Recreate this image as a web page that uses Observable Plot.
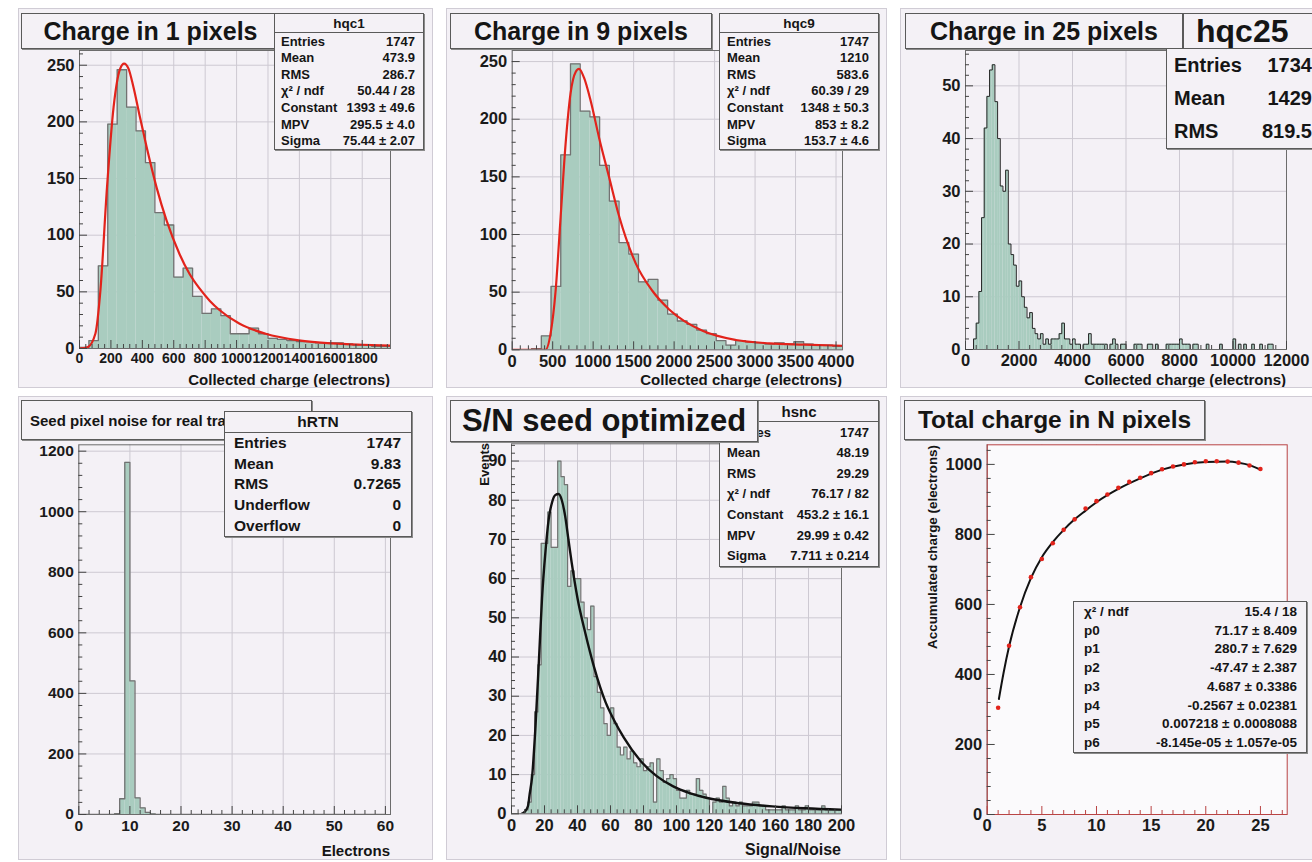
<!DOCTYPE html>
<html>
<head>
<meta charset="utf-8">
<script src="https://cdn.jsdelivr.net/npm/d3@7"></script>
<script src="https://cdn.jsdelivr.net/npm/@observablehq/plot@0.6"></script>
<style>
  html, body { margin:0; padding:0; background:#ffffff; }
  body { width:1312px; height:862px; overflow:hidden; position:relative;
         font-family:"Liberation Sans", Arial, Helvetica, sans-serif; color:#111; }
  .pad { position:absolute; overflow:hidden; background:#f4f1f6; box-sizing:border-box;
         border:1px solid #d0ccd5; }
  .pad > svg { position:absolute; left:0; top:0; }
  .box { position:absolute; box-sizing:border-box; background:#f4f1f6; border:1px solid #5a5a5a;
         box-shadow:1px 1px 0 #8a8a8a; font-weight:bold; white-space:nowrap; color:#151515; }
  .title { display:flex; align-items:center; justify-content:center; }
  .hdr { position:absolute; left:0; right:0; top:0; box-sizing:border-box;
         border-bottom:1px solid #5a5a5a; display:flex; align-items:center; justify-content:center; }
  .row { position:absolute; display:flex; justify-content:space-between; align-items:center; }
  .axt { position:absolute; font-weight:bold; white-space:nowrap; line-height:1; color:#151515; }
</style>
</head>
<body>
<script>
// ---------------- DATA ----------------
// Panel 1: hqc1 (charge in 1 pixel), bins of 60 electrons from 0
const hqc1BinWidth = 60;
const hqc1Counts = [1, 7, 73, 198, 246, 213, 192, 164, 120, 109, 63, 71, 46, 31, 35, 29, 13, 13, 18, 13, 9, 8, 7, 6, 6, 5, 5, 5, 4, 3, 3, 2, 2];
const hqc1FitX = [0, 50, 101, 133, 175, 217, 259, 284, 312, 343, 385, 427, 491, 554, 638, 700, 764, 830, 891, 1017, 1185, 1396, 1606, 1800, 1980];
const hqc1FitY = [0, 1, 13, 51, 142, 213, 247, 251.5, 247, 231, 204, 178, 142, 113, 83, 66, 53, 42, 34, 22, 13, 7.2, 4.5, 3.3, 2.6];
const hqc1XTicks = [0, 200, 400, 600, 800, 1000, 1200, 1400, 1600, 1800];
const hqc1YTicks = [0, 50, 100, 150, 200, 250];
const hqc1Stats = [["Entries", "1747"], ["Mean", "473.9"], ["RMS", "286.7"], ["χ² / ndf", "50.44 / 28"], ["Constant", "1393 ± 49.6"], ["MPV", "295.5 ± 4.0"], ["Sigma", "75.44 ± 2.07"]];

// Panel 2: hqc9 (charge in 9 pixels), bins of 120 electrons from 0
const hqc9BinWidth = 120;
const hqc9Counts = [0, 0, 1, 12, 55, 169, 248, 207, 202, 160, 129, 93, 83, 59, 61, 43, 31, 25, 22, 17, 14, 8, 4, 8, 7, 6, 5, 6, 5, 7, 5, 4, 4, 3];
const hqc9FitX = [0, 412, 474, 536, 598, 660, 722, 784, 825, 887, 969, 1073, 1196, 1320, 1526, 1733, 1939, 2351, 2764, 3177, 3600, 4080];
const hqc9FitY = [0, 0, 14, 51, 115, 179, 223, 241, 243.6, 236, 216, 184, 150, 116, 75, 51, 35, 16.5, 8.5, 5.6, 4.5, 3.5];
const hqc9XTicks = [0, 500, 1000, 1500, 2000, 2500, 3000, 3500, 4000];
const hqc9YTicks = [0, 50, 100, 150, 200, 250];
const hqc9Stats = [["Entries", "1747"], ["Mean", "1210"], ["RMS", "583.6"], ["χ² / ndf", "60.39 / 29"], ["Constant", "1348 ± 50.3"], ["MPV", "853 ± 8.2"], ["Sigma", "153.7 ± 4.6"]];

// Panel 3: hqc25 (charge in 25 pixels), bins of 100 electrons from 0
const hqc25BinWidth = 100;
const hqc25Counts = [0, 0, 0, 2, 5, 11, 25, 42, 48, 53, 54, 47, 40, 31, 30, 34, 20, 18, 16, 12,
  13, 10, 8, 6, 7, 4, 3, 2, 3, 1, 2, 1, 2, 2, 2, 3, 5, 2, 2, 1,
  2, 1, 1, 0, 1, 1, 3, 1, 1, 1, 1, 1, 1, 0, 1, 2, 1, 0, 1, 1,
  0, 0, 0, 1, 1, 1, 0, 0, 1, 1, 0, 1, 0, 0, 0, 1, 1, 1, 1, 1,
  2, 1, 1, 1, 0, 1, 1, 0, 0, 0, 1, 0, 0, 0, 0, 1, 0, 0, 0, 0,
  2, 0, 1, 0, 1, 0, 0, 1, 0, 0, 1, 0, 0, 1, 1, 0, 0, 0, 0, 0];
const hqc25XTicks = [0, 2000, 4000, 6000, 8000, 10000, 12000];
const hqc25YTicks = [0, 10, 20, 30, 40, 50];
const hqc25Stats = [["Entries", "1734"], ["Mean", "1429"], ["RMS", "819.5"]];

// Panel 4: hRTN (seed pixel noise), bins of 1 electron from 0
const hRTNBinWidth = 1;
const hRTNCounts = [0, 0, 0, 0, 0, 0, 0, 3, 52, 1163, 441, 55, 22, 7, 2, 0, 0, 0, 0, 0,
  0, 0, 0, 0, 0, 0, 0, 0, 0, 0, 0, 0, 0, 0, 0, 0, 0, 0, 0, 0,
  0, 0, 0, 0, 0, 0, 0, 0, 0, 0, 0, 0, 0, 0, 0, 0, 0, 0, 0, 0];
const hRTNXTicks = [0, 10, 20, 30, 40, 50, 60];
const hRTNYTicks = [0, 200, 400, 600, 800, 1000, 1200];
const hRTNStats = [["Entries", "1747"], ["Mean", "9.83"], ["RMS", "0.7265"], ["Underflow", "0"], ["Overflow", "0"]];

// Panel 5: hsnc (S/N seed optimized), bins of 2 from 0
const hsncBinWidth = 2;
const hsncCounts = [0, 0, 0, 0, 1, 3, 10, 26, 38, 69, 69, 77, 68, 68, 90, 86, 84, 58, 62, 60,
  60, 54, 50, 47, 53, 35, 31, 27, 23, 20, 27, 23, 17, 15, 17, 14, 16, 13, 12, 14,
  11, 12, 13, 3, 14, 11, 8, 9, 10, 9, 6, 4, 4, 6, 5, 5, 9, 6, 5, 4,
  0, 3, 4, 3, 7, 4, 2, 3, 2, 3, 2, 2, 2, 3, 3, 2, 2, 1, 1, 1,
  1, 1, 2, 1, 1, 1, 2, 1, 1, 2, 1, 1, 1, 1, 2, 1, 1, 1, 1, 1];
const hsncFitX = [6, 8, 10, 11, 12.5, 14.5, 16.6, 18.5, 20.6, 22.5, 24.6, 26.5, 28.5, 30.5, 32.5, 34.5, 36.5, 40, 44.8, 50, 57, 62, 68, 78, 88, 98, 108, 118, 138, 158, 178, 200];
const hsncFitY = [0, 0.5, 2, 5, 9.5, 22, 39, 55, 67, 75, 79.5, 81.3, 81.6, 80, 76, 70, 64, 55, 46, 37.5, 28.5, 24, 19.5, 13.6, 9.6, 7, 5.3, 4.1, 2.7, 1.9, 1.4, 1.05];
const hsncXTicks = [0, 20, 40, 60, 80, 100, 120, 140, 160, 180, 200];
const hsncYTicks = [0, 10, 20, 30, 40, 50, 60, 70, 80, 90];
const hsncStats = [["Entries", "1747"], ["Mean", "48.19"], ["RMS", "29.29"], ["χ² / ndf", "76.17 / 82"], ["Constant", "453.2 ± 16.1"], ["MPV", "29.99 ± 0.42"], ["Sigma", "7.711 ± 0.214"]];

// Panel 6: total charge in N pixels
const nPixels = [1, 2, 3, 4, 5, 6, 7, 8, 9, 10, 11, 12, 13, 14, 15, 16, 17, 18, 19, 20, 21, 22, 23, 24, 25];
const accCharge = [305, 482, 592, 678, 730, 775, 813, 843, 874, 895, 914, 933, 950, 962, 975, 986, 994, 1000, 1006, 1009, 1009, 1008, 1005, 997, 987];
const pol6FitX = [1.07, 1.5, 2, 3, 4, 5, 6, 7, 8, 9, 10, 12, 14, 16, 18, 20, 22, 23, 24, 25];
const pol6FitY = [330, 405, 480, 592, 675, 735, 778, 813, 843, 868, 892, 930, 960, 985, 1000, 1007, 1008, 1005, 998, 985];
const accXTicks = [0, 5, 10, 15, 20, 25];
const accYTicks = [0, 200, 400, 600, 800, 1000];
const pol6Stats = [["χ² / ndf", "15.4 / 18"], ["p0", "71.17 ± 8.409"], ["p1", "280.7 ± 7.629"], ["p2", "-47.47 ± 2.387"], ["p3", "4.687 ± 0.3386"], ["p4", "-0.2567 ± 0.02381"], ["p5", "0.007218 ± 0.0008088"], ["p6", "-8.145e-05 ± 1.057e-05"]];

// ---------------- STYLE ----------------
const FONT = '"Liberation Sans", Arial, Helvetica, sans-serif';
const COL = {fill: "#a9ccbf", outline: "#727272", grid: "#cdc9d2", axis: "#6c6c6c", tick: "#444444",
             red: "#e2231b", black: "#121212", frame6: "#b94444"};
const fmt = d3.format("d");

// ---------------- HELPERS ----------------
function div(cls) { const d = document.createElement("div"); if (cls) d.className = cls; return d; }
function makePad(left, top, w, h) {
  const d = div("pad");
  Object.assign(d.style, {left: left + "px", top: top + "px", width: w + "px", height: h + "px"});
  document.body.appendChild(d);
  return {el: d, left, top, w, h};
}
function put(p, el, x, y) {
  el.style.left = (x - p.left - 1) + "px";
  el.style.top = (y - p.top - 1) + "px";
  p.el.appendChild(el);
}
function minorTicks(major, n) {
  const out = [];
  for (let i = 0; i < major.length - 1; i++) {
    const a = major[i], b = major[i + 1];
    for (let k = 1; k < n; k++) out.push(a + (b - a) * k / n);
  }
  const step = (major[1] - major[0]) / n;
  let v = major[major.length - 1] + step;
  for (let k = 1; k < n; k++, v += step) out.push(v);
  return out;
}
function axisMarks(o) {
  const xc = o.xTickColor || COL.tick, yc = o.yTickColor || COL.tick;
  return [
    Plot.axisX({ticks: o.xMajor, tickSize: 0, tickPadding: 5, tickFormat: fmt, label: null, fontSize: o.xFontSize || o.fontSize}),
    Plot.axisX({ticks: o.xMajor, tickSize: -8, tickFormat: () => "", label: null, stroke: xc}),
    Plot.axisX({ticks: o.xMinor.filter(v => v <= o.xDomain[1]), tickSize: -4, tickFormat: () => "", label: null, stroke: xc}),
    Plot.axisY({ticks: o.yMajor, tickSize: 0, tickPadding: 5, tickFormat: fmt, label: null, fontSize: o.fontSize}),
    Plot.axisY({ticks: o.yMajor, tickSize: -8, tickFormat: () => "", label: null, stroke: yc}),
    Plot.axisY({ticks: o.yMinor.filter(v => v <= o.yDomain[1]), tickSize: -4, tickFormat: () => "", label: null, stroke: yc})
  ];
}
function makePlot(p, f, o, marks) {
  const W = p.w - 2, H = p.h - 2, ox = p.left + 1, oy = p.top + 1;
  const svg = Plot.plot({
    width: W, height: H,
    marginLeft: f.l - ox, marginRight: ox + W - f.r, marginTop: f.t - oy, marginBottom: oy + H - f.b,
    x: {domain: o.xDomain, label: null},
    y: {domain: o.yDomain, label: null},
    style: {background: "transparent", fontFamily: FONT, fontSize: (o.fontSize || 16) + "px",
            fontWeight: "bold", color: "#1a1a1a", overflow: "visible"},
    marks: [
      Plot.gridX({ticks: o.xMajor, stroke: COL.grid, strokeOpacity: 1, strokeWidth: 1}),
      Plot.gridY({ticks: o.yMajor, stroke: COL.grid, strokeOpacity: 1, strokeWidth: 1}),
      ...marks,
      Plot.frame({stroke: o.frameColor || COL.axis, strokeWidth: 1}),
      ...axisMarks(o)
    ]
  });
  p.el.appendChild(svg);
}
function histMarks(counts, w, outline, outlineWidth) {
  const bins = counts.map((n, i) => ({x1: i * w, x2: (i + 1) * w, n}));
  const steps = counts.map((n, i) => ({x: i * w, y: n}));
  steps.push({x: counts.length * w, y: counts[counts.length - 1]});
  return [
    Plot.rectY(bins, {x1: "x1", x2: "x2", y: "n", fill: COL.fill, clip: true}),
    Plot.line(steps, {x: "x", y: "y", curve: "step-after", stroke: outline, strokeWidth: outlineWidth, clip: true})
  ];
}
function fitLine(xs, ys, color, width) {
  return Plot.line(xs.map((x, i) => ({x, y: ys[i]})), {x: "x", y: "y", curve: "monotone-x", stroke: color, strokeWidth: width, clip: true});
}
function titleBox(p, text, x, y, w, h, size) {
  const d = div("box title");
  Object.assign(d.style, {width: w + "px", height: h + "px", fontSize: size + "px"});
  d.textContent = text;
  put(p, d, x, y);
  return d;
}
function statsBox(p, b) {
  const box = div("box");
  Object.assign(box.style, {width: b.w + "px", height: b.h + "px", fontSize: b.fontSize + "px"});
  let top0 = 0;
  if (b.header) {
    const h = div("hdr");
    Object.assign(h.style, {height: b.headerH + "px", fontSize: (b.headerSize || b.fontSize) + "px"});
    h.textContent = b.header;
    box.appendChild(h);
    top0 = b.headerH;
  }
  const rh = (b.h - 2 - top0) / b.rows.length;
  b.rows.forEach(([k, v], i) => {
    const r = div("row");
    Object.assign(r.style, {left: b.padL + "px", right: b.padR + "px", top: (top0 + i * rh) + "px", height: rh + "px"});
    const a = document.createElement("span"); a.textContent = k;
    const c = document.createElement("span"); c.textContent = v;
    r.appendChild(a); r.appendChild(c);
    box.appendChild(r);
  });
  put(p, box, b.x, b.y);
  return box;
}
function xTitle(p, text, xRight, yTop, size) {
  const d = div("axt"); d.textContent = text; d.style.fontSize = size + "px";
  d.style.transform = "translateX(-100%)";
  put(p, d, xRight, yTop);
}
function yTitle(p, text, xCenter, yTop, size) {
  const d = div("axt"); d.textContent = text; d.style.fontSize = size + "px";
  d.style.transformOrigin = "0 0";
  d.style.transform = "rotate(-90deg) translate(-100%, -50%)";
  put(p, d, xCenter, yTop);
}

// ---------------- PANEL 1 ----------------
{
  const p = makePad(18, 8, 415, 380);
  const o = {xDomain: [0, 1980], yDomain: [0, 263], xMajor: hqc1XTicks, xMinor: minorTicks(hqc1XTicks, 5),
             yMajor: hqc1YTicks, yMinor: minorTicks(hqc1YTicks, 5), fontSize: 16.5, xFontSize: 14};
  makePlot(p, {l: 79, r: 390, t: 50, b: 348}, o, [
    ...histMarks(hqc1Counts, hqc1BinWidth, COL.outline, 1.3),
    fitLine(hqc1FitX, hqc1FitY, COL.red, 2.2)
  ]);
  titleBox(p, "Charge in 1 pixels", 21, 13, 259, 36, 25);
  statsBox(p, {x: 274, y: 13, w: 150, h: 137, header: "hqc1", headerH: 19, headerSize: 13.5, fontSize: 13, padL: 6, padR: 8, rows: hqc1Stats});
  xTitle(p, "Collected charge (electrons)", 390, 372, 15);
}

// ---------------- PANEL 2 ----------------
{
  const p = makePad(446, 8, 441, 380);
  const o = {xDomain: [0, 4080], yDomain: [0, 259.6], xMajor: hqc9XTicks, xMinor: minorTicks(hqc9XTicks, 5),
             yMajor: hqc9YTicks, yMinor: minorTicks(hqc9YTicks, 5), fontSize: 16.5};
  makePlot(p, {l: 511.7, r: 842, t: 50, b: 349.3}, o, [
    ...histMarks(hqc9Counts, hqc9BinWidth, COL.outline, 1.3),
    fitLine(hqc9FitX, hqc9FitY, COL.red, 2.2)
  ]);
  titleBox(p, "Charge in 9 pixels", 450, 13, 262, 36, 25);
  statsBox(p, {x: 719, y: 13, w: 160, h: 137, header: "hqc9", headerH: 19, headerSize: 13.5, fontSize: 13, padL: 7, padR: 9, rows: hqc9Stats});
  xTitle(p, "Collected charge (electrons)", 842, 372, 15);
}

// ---------------- PANEL 3 ----------------
{
  const p = makePad(900, 8, 420, 380);
  const o = {xDomain: [0, 12000], yDomain: [0, 56.7], xMajor: hqc25XTicks, xMinor: minorTicks(hqc25XTicks, 5),
             yMajor: hqc25YTicks, yMinor: minorTicks(hqc25YTicks, 5), fontSize: 16.5};
  makePlot(p, {l: 965, r: 1286, t: 50, b: 349}, o, [
    ...histMarks(hqc25Counts, hqc25BinWidth, "#262626", 1)
  ]);
  titleBox(p, "Charge in 25 pixels", 905, 13, 278, 36, 25);
  const hb = div("box");
  Object.assign(hb.style, {width: "150px", height: "36px", fontSize: "32px", lineHeight: "34px", paddingLeft: "12px"});
  hb.textContent = "hqc25";
  put(p, hb, 1183, 13);
  statsBox(p, {x: 1166, y: 48, w: 160, h: 101, fontSize: 20, padL: 7, padR: 13, rows: hqc25Stats});
  xTitle(p, "Collected charge (electrons)", 1286, 372, 15);
}

// ---------------- PANEL 4 ----------------
{
  const p = makePad(18, 396, 415, 464);
  const o = {xDomain: [0, 61], yDomain: [0, 1221], xMajor: hRTNXTicks, xMinor: minorTicks(hRTNXTicks, 5),
             yMajor: hRTNYTicks, yMinor: minorTicks(hRTNYTicks, 5), fontSize: 15.5};
  makePlot(p, {l: 78.3, r: 390, t: 444.3, b: 814}, o, [
    ...histMarks(hRTNCounts, hRTNBinWidth, COL.outline, 1.3)
  ]);
  const t = titleBox(p, "Seed pixel noise for real tracks", 21, 400, 291, 40, 15);
  t.style.justifyContent = "flex-start"; t.style.paddingLeft = "8px";
  statsBox(p, {x: 224, y: 411, w: 188, h: 126, header: "hRTN", headerH: 21, headerSize: 15.5, fontSize: 15.5, padL: 9, padR: 10, rows: hRTNStats});
  xTitle(p, "Electrons", 390, 843, 15);
}

// ---------------- PANEL 5 ----------------
{
  const p = makePad(446, 396, 441, 464);
  const o = {xDomain: [0, 200], yDomain: [0, 94.4], xMajor: hsncXTicks, xMinor: minorTicks(hsncXTicks, 5),
             yMajor: hsncYTicks, yMinor: minorTicks(hsncYTicks, 5), fontSize: 16.5};
  makePlot(p, {l: 511, r: 841, t: 443.3, b: 813.3}, o, [
    ...histMarks(hsncCounts, hsncBinWidth, COL.outline, 1.2),
    fitLine(hsncFitX, hsncFitY, COL.black, 2.4)
  ]);
  statsBox(p, {x: 719, y: 400, w: 160, h: 167, header: "hsnc", headerH: 21, headerSize: 15, fontSize: 13, padL: 7, padR: 9, rows: hsncStats});
  titleBox(p, "S/N seed optimized", 450, 400, 308, 42, 31);
  xTitle(p, "Signal/Noise", 841, 842, 16);
  yTitle(p, "Events", 484, 443, 13);
}

// ---------------- PANEL 6 ----------------
{
  const p = makePad(900, 396, 420, 464);
  const o = {xDomain: [0, 27.45], yDomain: [0, 1056], xMajor: accXTicks, xMinor: minorTicks(accXTicks, 5),
             yMajor: accYTicks, yMinor: minorTicks(accYTicks, 5), fontSize: 16.5,
             frameColor: COL.frame6, xTickColor: COL.frame6};
  const pts = nPixels.map((n, i) => ({x: n, y: accCharge[i]}));
  makePlot(p, {l: 986.7, r: 1286.7, t: 444.3, b: 814}, o, [
    Plot.frame({fill: "#fbfafc", stroke: null}),
    fitLine(pol6FitX, pol6FitY, COL.black, 2),
    Plot.dot(pts, {x: "x", y: "y", r: 2.3, fill: COL.red, stroke: null}),
    Plot.ruleX([o.xDomain[0]], {stroke: COL.axis})
  ]);
  titleBox(p, "Total charge in N pixels", 904, 400, 301, 40, 24.5);
  statsBox(p, {x: 1073, y: 601, w: 234, h: 152, fontSize: 13.5, padL: 10, padR: 9, rows: pol6Stats});
  yTitle(p, "Accumulated charge (electrons)", 933, 445, 13.4);
}
</script>
</body>
</html>
